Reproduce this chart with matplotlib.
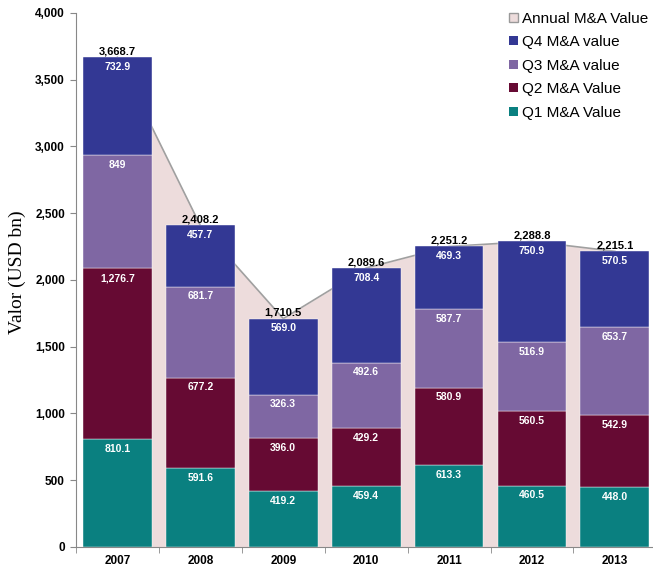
import matplotlib
matplotlib.use("Agg")
import matplotlib.pyplot as plt
import numpy as np
from matplotlib.ticker import FuncFormatter, FixedLocator
from matplotlib.patches import Patch

years = ["2007", "2008", "2009", "2010", "2011", "2012", "2013"]
q1 = [810.1, 591.6, 419.2, 459.4, 613.3, 460.5, 448.0]
q2 = [1276.7, 677.2, 396.0, 429.2, 580.9, 560.5, 542.9]
q3 = [849.0, 681.7, 326.3, 492.6, 587.7, 516.9, 653.7]
q4 = [732.9, 457.7, 569.0, 708.4, 469.3, 750.9, 570.5]
annual = [3668.7, 2408.2, 1710.5, 2089.6, 2251.2, 2288.8, 2215.1]
q3_labels = ["849", "681.7", "326.3", "492.6", "587.7", "516.9", "653.7"]

c_q1 = "#0A8080"
c_q2 = "#660A33"
c_q3 = "#7F67A3"
c_q4 = "#333894"
c_area = "#EDDCDC"
c_line = "#A0A0A0"

fig = plt.figure(figsize=(6.53, 5.67), dpi=100)
ax = fig.add_axes([0.1164, 0.0353, 0.8836, 0.9418])

x = np.arange(len(years))
ax.fill_between(x, 0, annual, color=c_area, zorder=1, linewidth=0)
ax.plot(x, annual, color=c_line, lw=1.2, zorder=1.5)

w = 0.83
bottoms = np.zeros(len(years))
series = [(q1, c_q1, "Q1 M&A Value", None), (q2, c_q2, "Q2 M&A Value", None),
          (q3, c_q3, "Q3 M&A value", q3_labels), (q4, c_q4, "Q4 M&A value", None)]
for vals, col, lab, labs in series:
    ax.bar(x, vals, w, bottom=bottoms, color=col, zorder=2, label=lab,
           edgecolor="white", linewidth=0.3)
    tops = bottoms + np.array(vals)
    for i, v in enumerate(vals):
        txt = labs[i] if labs is not None else f"{v:,.1f}"
        ax.annotate(txt, (x[i], tops[i]), xytext=(0, -3.5), textcoords="offset points",
                    ha="center", va="top", color="white", fontsize=7.5,
                    fontweight="bold", family="Liberation Sans", zorder=3)
    bottoms = tops

for i, v in enumerate(annual):
    ax.annotate(f"{v:,.1f}", (x[i], v), xytext=(0, 0.5), textcoords="offset points",
                ha="center", va="bottom", color="black", fontsize=8,
                fontweight="bold", family="Liberation Sans", zorder=3)

ax.set_ylim(0, 4000)
ax.set_xlim(-0.5, 6.46)
ax.set_yticks(np.arange(0, 4001, 500))
ax.yaxis.set_major_formatter(FuncFormatter(lambda v, p: f"{int(v):,}"))
ax.set_xticks(x)
ax.set_xticklabels(years)
ax.xaxis.set_minor_locator(FixedLocator(np.arange(-0.5, 7, 1.0)))
ax.tick_params(axis="x", which="major", length=0, pad=6)
ax.tick_params(axis="x", which="minor", length=4, color="#888888")
ax.tick_params(axis="y", length=4, color="#888888", pad=4)
for lbl in ax.get_xticklabels() + ax.get_yticklabels():
    lbl.set_fontsize(8.5)
    lbl.set_fontweight("bold")
    lbl.set_family("Liberation Sans")

for s in ["top", "right"]:
    ax.spines[s].set_visible(False)
for s in ["left", "bottom"]:
    ax.spines[s].set_color("#888888")
    ax.spines[s].set_linewidth(0.8)

ax.set_ylabel("Valor (USD bn)", family="Liberation Serif", fontsize=14)
ax.yaxis.set_label_coords(-0.086, 0.515)

leg_handles = [Patch(facecolor=c_area, edgecolor="#999999", lw=1.0),
               Patch(facecolor=c_q4), Patch(facecolor=c_q3),
               Patch(facecolor=c_q2), Patch(facecolor=c_q1)]
leg_labels = ["Annual M&A Value", "Q4 M&A value", "Q3 M&A value", "Q2 M&A Value", "Q1 M&A Value"]
ax.legend(leg_handles, leg_labels, loc="upper right", bbox_to_anchor=(1.016, 1.028),
          frameon=False, prop={"family": "Liberation Sans", "size": 11},
          handlelength=0.55, handleheight=0.55, handletextpad=0.3, labelspacing=0.62)

fig.savefig("out.png", dpi=100)
